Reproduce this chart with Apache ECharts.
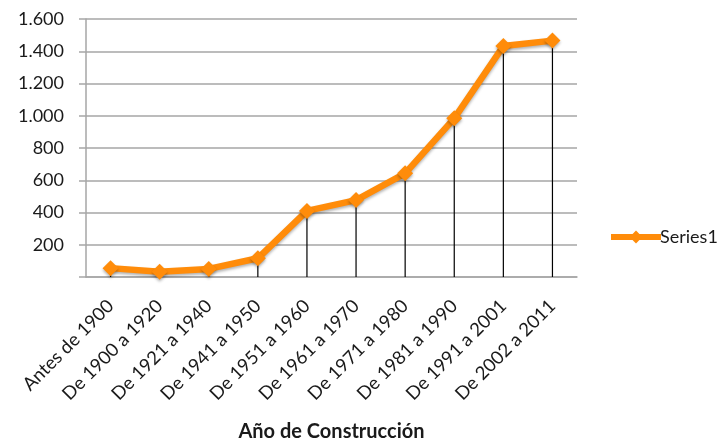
<!DOCTYPE html>
<html>
<head>
<meta charset="utf-8">
<script src="https://cdn.jsdelivr.net/npm/echarts@6/dist/echarts.min.js"></script>
<style>
  html, body { margin: 0; padding: 0; background: #fff; }
  #chart { width: 723px; height: 439px; }
</style>
</head>
<body>
<div id="chart"></div>
<script>
const categories = ['Antes de 1900', 'De 1900 a 1920', 'De 1921 a 1940', 'De 1941 a 1950', 'De 1951 a 1960',
  'De 1961 a 1970', 'De 1971 a 1980', 'De 1981 a 1990', 'De 1991 a 2001', 'De 2002 a 2011'];
const series1 = [55, 33, 50, 116, 410, 477, 643, 984, 1432, 1466];
const yTicks = [0, 200, 400, 600, 800, 1000, 1200, 1400, 1600];

const chart = echarts.init(document.getElementById('chart'));
const font = 'Lato, "Open Sans", sans-serif';

// separador de miles con punto
function fmt(v) {
  if (v == 0) return '';
  return String(v).replace(/\B(?=(\d{3})+(?!\d))/g, '.');
}

chart.setOption({
  animation: false,
  grid: { left: 86, right: 146, top: 19, bottom: 162, outerBoundsMode: 'none' },
  legend: {
    data: ['Series1'],
    left: 603,
    top: 223,
    itemWidth: 50,
    itemHeight: 16,
    itemGap: 4,
    lineStyle: { width: 6 },
    textStyle: { fontFamily: font, fontSize: 18, color: '#1a1a1a', padding: [0, 0, 0, -6] }
  },
  xAxis: {
    type: 'category',
    data: categories,
    boundaryGap: true,
    name: 'Año de Construcción',
    nameLocation: 'middle',
    nameGap: 145,
    nameTextStyle: { fontFamily: font, fontSize: 20, fontWeight: 'bold', color: '#1a1a1a' },
    axisLine: { lineStyle: { color: '#a6a6a6', width: 1.5 } },
    axisTick: { show: false },
    axisLabel: { rotate: 45, margin: 26, fontFamily: font, fontSize: 18.5, color: '#1a1a1a', interval: 0 }
  },
  yAxis: {
    type: 'value',
    min: yTicks[0],
    max: yTicks[yTicks.length - 1],
    interval: 200,
    axisLine: { show: true, lineStyle: { color: '#a6a6a6', width: 1.5 } },
    axisTick: { show: true, length: 7, lineStyle: { color: '#a6a6a6', width: 1.5 } },
    axisLabel: { margin: 22, fontFamily: font, fontSize: 18, color: '#1a1a1a', formatter: fmt },
    splitLine: { lineStyle: { color: '#a6a6a6', width: 1.5 } }
  },
  series: [
    {
      // líneas de caída hasta el eje
      name: 'drop',
      type: 'bar',
      data: series1,
      barWidth: 1.2,
      itemStyle: { color: '#000' },
      silent: true,
      z: 1
    },
    {
      name: 'Series1',
      type: 'line',
      data: series1,
      symbol: 'diamond',
      symbolSize: 16,
      lineStyle: { color: '#ff8c0a', width: 6.5, shadowColor: 'rgba(0,0,0,0.3)', shadowBlur: 3, shadowOffsetY: 2 },
      itemStyle: { color: '#ff8c0a', shadowColor: 'rgba(0,0,0,0.3)', shadowBlur: 3, shadowOffsetY: 2 },
      z: 3
    }
  ]
});
</script>
</body>
</html>
